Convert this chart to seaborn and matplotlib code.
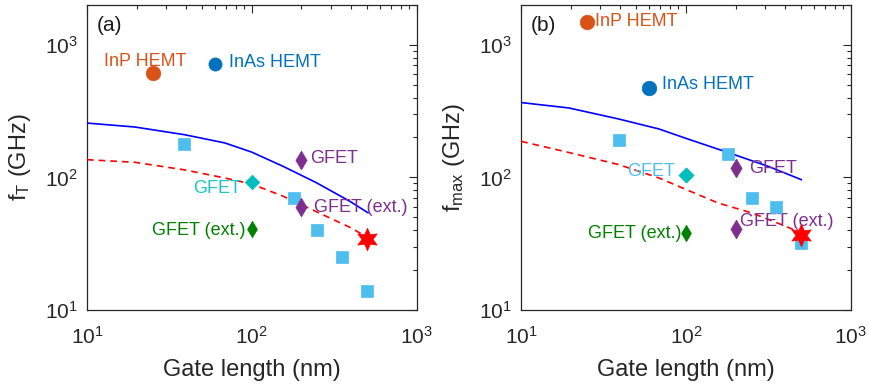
import numpy as np
import pandas as pd
import matplotlib
matplotlib.use("Agg")
import matplotlib.pyplot as plt
import seaborn as sns
from matplotlib.ticker import LogLocator, NullFormatter

sns.set_theme(style="white")
plt.rcParams['font.family'] = ['Liberation Sans', 'DejaVu Sans']
plt.rcParams['mathtext.fontset'] = 'custom'
plt.rcParams['mathtext.rm'] = 'Liberation Sans'
plt.rcParams['mathtext.it'] = 'Liberation Sans:italic'

# ---------------- data: panel (a) fT ----------------
a_inp_x, a_inp_y = [25], [610]
a_inas_x, a_inas_y = [60], [720]
a_sq_x = [39, 180, 250, 350, 500]
a_sq_y = [180, 70, 40, 25, 14]
a_cyan_x, a_cyan_y = [100], [93]
a_green_x, a_green_y = [100], [41]
a_purple_x = [200, 200]
a_purple_y = [136, 60]
a_star_x, a_star_y = [500], [34]
a_blue_x = [10, 19.5, 39, 68.5, 100, 155, 247, 393, 507]
a_blue_y = [257, 240, 210, 182, 155, 121, 91, 66, 54]
a_red_x = [10, 19.5, 39, 68.5, 100, 155, 247, 393, 507]
a_red_y = [136, 130, 114, 99, 89, 72, 55, 42, 35]

# ---------------- data: panel (b) fmax ----------------
b_inp_x, b_inp_y = [25], [1490]
b_inas_x, b_inas_y = [60], [474]
b_sq_x = [39, 180, 250, 350, 500]
b_sq_y = [192, 151, 70, 60, 32]
b_cyan_x, b_cyan_y = [100], [105]
b_green_x, b_green_y = [100], [38]
b_purple_x = [200, 200]
b_purple_y = [118, 41]
b_star_x, b_star_y = [500], [37]
b_blue_x = [10, 19.5, 39, 68.5, 100, 180, 316, 502]
b_blue_y = [367, 334, 276, 232, 197, 154, 121, 96]
b_red_x = [10, 19.5, 39, 68.5, 100, 157, 250, 398, 500]
b_red_y = [187, 154, 125, 99, 81, 64, 54, 43, 38]

ORANGE = '#D95319'
BLUE = '#0072BD'
LBLUE = '#4DBEEE'
CYAN = '#00BDBD'
GREEN = '#008000'
PURPLE = '#7E2F8E'
RED = '#FF0000'
HEX = (6, 1, 0)

fig = plt.figure(figsize=(8.7, 3.84), dpi=100)
ax1 = fig.add_axes([0.100, 0.193, 0.379, 0.794])
ax2 = fig.add_axes([0.599, 0.193, 0.379, 0.794])


def pts(ax, x, y, color, marker, size):
    df = pd.DataFrame({'x': x, 'y': y})
    sns.scatterplot(data=df, x='x', y='y', ax=ax, color=color, marker=marker,
                    s=size, edgecolor=color, linewidth=0.5, zorder=4)


def line(ax, x, y, color, ls):
    df = pd.DataFrame({'x': x, 'y': y})
    sns.lineplot(data=df, x='x', y='y', ax=ax, color=color, linestyle=ls,
                 linewidth=1.2, zorder=3)


def label(ax, x, y, text, color, dx, dy, ha):
    ax.annotate(text, (x, y), xytext=(dx, dy), textcoords='offset pixels',
                ha=ha, va='center', color=color, fontsize=13)


def style(ax, ylabel, tag):
    ax.set_xscale('log')
    ax.set_yscale('log')
    ax.set_xlim(10, 1000)
    ax.set_ylim(10, 2000)
    ax.xaxis.set_major_locator(LogLocator(base=10, numticks=10))
    ax.yaxis.set_major_locator(LogLocator(base=10, numticks=10))
    ax.xaxis.set_minor_locator(LogLocator(base=10, subs=np.arange(2, 10), numticks=20))
    ax.yaxis.set_minor_locator(LogLocator(base=10, subs=np.arange(2, 10), numticks=20))
    ax.xaxis.set_minor_formatter(NullFormatter())
    ax.yaxis.set_minor_formatter(NullFormatter())
    ax.tick_params(which='both', direction='in', top=True, right=True,
                   color='#262626', labelsize=15, labelcolor='#262626')
    ax.tick_params(which='major', length=6, width=0.8)
    ax.tick_params(which='minor', length=3, width=0.8)
    ax.tick_params(axis='x', which='major', pad=11.5)
    ax.tick_params(axis='y', which='major', pad=6.5)
    for sp in ax.spines.values():
        sp.set_color('#262626')
        sp.set_linewidth(0.9)
    ax.set_xlabel('Gate length (nm)', fontsize=17, color='#262626', labelpad=8)
    ax.set_ylabel(ylabel, fontsize=17, color='#262626', labelpad=9)
    ax.text(0.03, 0.965, tag, transform=ax.transAxes, ha='left', va='top',
            fontsize=15, color='#1a1a1a')
    leg = ax.get_legend()
    if leg:
        leg.remove()


# ---- panel (a)
line(ax1, a_blue_x, a_blue_y, '#0000FF', '-')
line(ax1, a_red_x, a_red_y, RED, (0, (4, 3)))
pts(ax1, a_inp_x, a_inp_y, ORANGE, 'o', 110)
pts(ax1, a_inas_x, a_inas_y, BLUE, 'o', 90)
pts(ax1, a_sq_x, a_sq_y, LBLUE, 's', 75)
pts(ax1, a_cyan_x, a_cyan_y, CYAN, 'D', 55)
pts(ax1, a_green_x, a_green_y, GREEN, 'd', 70)
pts(ax1, a_purple_x, a_purple_y, PURPLE, 'd', 90)
pts(ax1, a_star_x, a_star_y, RED, HEX, 260)
label(ax1, a_inp_x[0], a_inp_y[0], 'InP HEMT', ORANGE, -7, 12, 'center')
label(ax1, a_inas_x[0], a_inas_y[0], 'InAs HEMT', BLUE, 14, 1, 'left')
label(ax1, a_purple_x[0], a_purple_y[0], 'GFET', PURPLE, 9, 1, 'left')
label(ax1, a_cyan_x[0], a_cyan_y[0], 'GFET', '#1CC4C4', -11, -7, 'right')
label(ax1, a_purple_x[1], a_purple_y[1], 'GFET (ext.)', PURPLE, 13, -1, 'left')
label(ax1, a_green_x[0], a_green_y[0], 'GFET (ext.)', GREEN, -6, -2, 'right')
style(ax1, r'f$_{\mathrm{T}}$ (GHz)', '(a)')

# ---- panel (b)
line(ax2, b_blue_x, b_blue_y, '#0000FF', '-')
line(ax2, b_red_x, b_red_y, RED, (0, (4, 3)))
pts(ax2, b_inp_x, b_inp_y, ORANGE, 'o', 110)
pts(ax2, b_inas_x, b_inas_y, BLUE, 'o', 110)
pts(ax2, b_sq_x, b_sq_y, LBLUE, 's', 75)
pts(ax2, b_cyan_x, b_cyan_y, CYAN, 'D', 60)
pts(ax2, b_green_x, b_green_y, GREEN, 'd', 70)
pts(ax2, b_purple_x, b_purple_y, PURPLE, 'd', 90)
pts(ax2, b_star_x, b_star_y, RED, HEX, 260)
label(ax2, b_inp_x[0], b_inp_y[0], 'InP HEMT', ORANGE, 8, 0, 'left')
label(ax2, b_inas_x[0], b_inas_y[0], 'InAs HEMT', BLUE, 13, 3, 'left')
label(ax2, b_cyan_x[0], b_cyan_y[0], 'GFET', LBLUE, -11, 3, 'right')
label(ax2, b_purple_x[0], b_purple_y[0], 'GFET', PURPLE, 14, -1, 'left')
label(ax2, b_purple_x[1], b_purple_y[1], 'GFET (ext.)', PURPLE, 4, 7, 'left')
label(ax2, b_green_x[0], b_green_y[0], 'GFET (ext.)', GREEN, -4, 0, 'right')
style(ax2, r'f$_{\mathrm{max}}$ (GHz)', '(b)')

fig.savefig('out.png', dpi=100)
